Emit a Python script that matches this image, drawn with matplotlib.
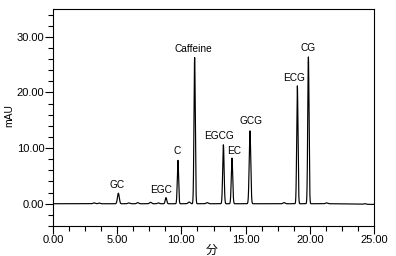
import numpy as np
import matplotlib
matplotlib.use("Agg")
import matplotlib.pyplot as plt
from matplotlib.ticker import MultipleLocator, FormatStrFormatter

# peak table (retention time min, height mAU, width min)
names = ["GC", "EGC", "C", "Caffeine", "EGCG", "EC", "GCG", "ECG", "CG"]
rt = [5.09, 8.80, 9.73, 11.03, 13.27, 13.94, 15.34, 19.03, 19.89]
height = [1.9, 1.1, 7.8, 26.3, 10.6, 8.2, 13.1, 21.2, 26.4]
width = [0.07, 0.06, 0.05, 0.05, 0.055, 0.055, 0.06, 0.05, 0.05]

# small baseline bumps
bump_rt = [3.2, 3.6, 5.9, 6.6, 7.6, 8.2, 10.6, 12.0, 18.0, 21.3, 24.3]
bump_h = [0.15, 0.12, 0.15, 0.2, 0.25, 0.15, 0.3, 0.2, 0.2, 0.15, 0.1]

# label anchor (baseline) for each peak name
label_x = [4.98, 8.39, 9.66, 10.97, 12.93, 14.12, 15.40, 18.80, 19.86]
label_y = [2.9, 2.0, 9.0, 27.3, 11.7, 9.0, 14.4, 22.1, 27.5]

t = np.arange(0, 25.0, 0.004)
signal = np.zeros_like(t)
for r, h, w in zip(rt, height, width):
    signal += h * np.exp(-0.5 * ((t - r) / w) ** 2)
for r, h in zip(bump_rt, bump_h):
    signal += h * np.exp(-0.5 * ((t - r) / 0.08) ** 2)
# slight drift at the end
signal -= 0.12 * np.clip((t - 22) / 3, 0, 1)

plt.rcParams['font.family'] = ['Liberation Sans', 'Noto Sans CJK JP']
narrow = ['Liberation Sans Narrow', 'Liberation Sans']
fig = plt.figure(figsize=(3.96, 2.56), dpi=100)
ax = fig.add_axes([53 / 396, 30 / 256, 321 / 396, 217 / 256])
ax.plot(t, signal, color='black', lw=0.85)

for n, x, y in zip(names, label_x, label_y):
    ax.text(x, y, n, ha='center', va='baseline', fontsize=7.3)

ax.set_xlim(0, 25)
ax.set_ylim(-4, 35)
ax.xaxis.set_major_locator(MultipleLocator(5))
ax.xaxis.set_minor_locator(MultipleLocator(1.25))
ax.yaxis.set_major_locator(MultipleLocator(10))
ax.yaxis.set_minor_locator(MultipleLocator(2))
ax.xaxis.set_major_formatter(FormatStrFormatter('%.2f'))
ax.yaxis.set_major_formatter(FormatStrFormatter('%.2f'))
ax.tick_params(which='major', direction='out', length=5.8, width=0.8, labelsize=8, pad=0.5)
ax.tick_params(which='minor', direction='out', length=3.4, width=0.8)
for lab in ax.get_xticklabels() + ax.get_yticklabels():
    lab.set_family(narrow)
for s in ax.spines.values():
    s.set_linewidth(0.8)

ax.set_xlabel('分', fontsize=8.5, family=['Noto Sans CJK JP'], va='top')
ax.xaxis.set_label_coords(0.494, -0.082)
ax.set_ylabel('mAU', fontsize=7.5, family=narrow)
ax.yaxis.set_label_coords(-0.122, 0.51)

fig.savefig('out.png', dpi=100)
